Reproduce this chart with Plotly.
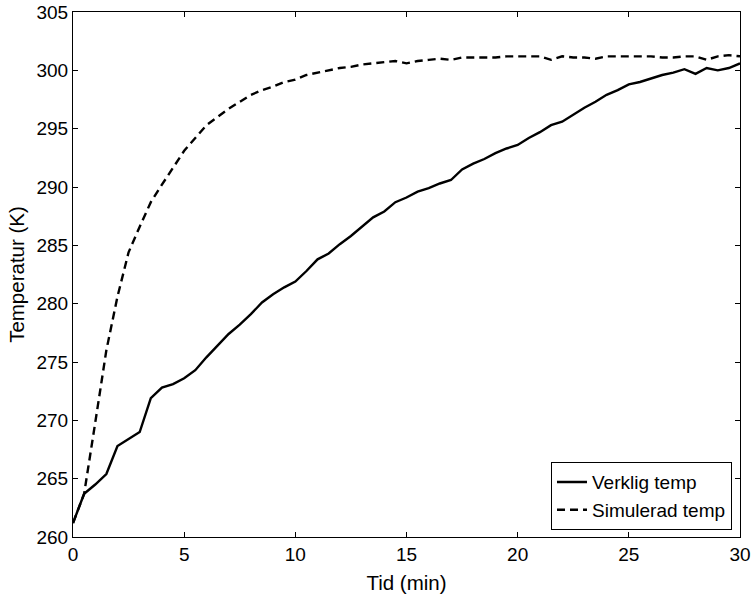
import plotly.graph_objects as go

time_min = [i * 0.5 for i in range(61)]

verklig_temp = [
    261.2, 263.7, 264.5, 265.4, 267.8, 268.4, 269.0, 271.9, 272.8, 273.1,
    273.6, 274.3, 275.4, 276.4, 277.4, 278.2, 279.1, 280.1, 280.8, 281.4,
    281.9, 282.8, 283.8, 284.3, 285.1, 285.8, 286.6, 287.4, 287.9, 288.7,
    289.1, 289.6, 289.9, 290.3, 290.6, 291.5, 292.0, 292.4, 292.9, 293.3,
    293.6, 294.2, 294.7, 295.3, 295.6, 296.2, 296.8, 297.3, 297.9, 298.3,
    298.8, 299.0, 299.3, 299.6, 299.8, 300.1, 299.7, 300.2, 300.0, 300.2,
    300.6,
]

simulerad_temp = [
    261.2, 263.7, 269.8, 276.0, 280.6, 284.4, 286.6, 288.7, 290.2, 291.6,
    293.1, 294.2, 295.3, 296.0, 296.7, 297.3, 297.9, 298.3, 298.6, 299.0,
    299.2, 299.6, 299.8, 300.0, 300.2, 300.3, 300.5, 300.6, 300.7, 300.8,
    300.6, 300.8, 300.9, 301.0, 300.9, 301.1, 301.1, 301.1, 301.1, 301.2,
    301.2, 301.2, 301.2, 300.9, 301.2, 301.1, 301.1, 301.0, 301.2, 301.2,
    301.2, 301.2, 301.2, 301.1, 301.1, 301.2, 301.2, 300.9, 301.2, 301.3,
    301.2,
]

series_names = ["Verklig temp", "Simulerad temp"]
x_ticks = [0, 5, 10, 15, 20, 25, 30]
y_ticks = [260, 265, 270, 275, 280, 285, 290, 295, 300, 305]

font_family = "Liberation Sans, Arial, Helvetica, sans-serif"

fig = go.Figure()
fig.add_trace(go.Scatter(
    x=time_min, y=verklig_temp, mode="lines", name=series_names[0],
    line=dict(color="black", width=2.4, dash="solid"),
))
fig.add_trace(go.Scatter(
    x=time_min, y=simulerad_temp, mode="lines", name=series_names[1],
    line=dict(color="black", width=2.4, dash="8px,5px"),
))

axis_common = dict(
    showgrid=False, zeroline=False, showline=True, linecolor="black", linewidth=1,
    ticks="inside", ticklen=5, tickcolor="black", mirror="ticks",
    tickfont=dict(family=font_family, size=19, color="black"),
    automargin=False,
)

fig.update_layout(
    width=754, height=602,
    paper_bgcolor="white", plot_bgcolor="white",
    margin=dict(l=73, r=14, t=12, b=65),
    font=dict(family=font_family, size=19, color="black"),
    xaxis=dict(range=[0, 30], tickvals=x_ticks,
               title=dict(text="Tid (min)", font=dict(size=20.5), standoff=11),
               **axis_common),
    yaxis=dict(range=[260, 305], tickvals=y_ticks,
               title=dict(text="Temperatur (K)", font=dict(size=20.5), standoff=6),
               **axis_common),
    legend=dict(
        x=0.988, y=0.013, xanchor="right", yanchor="bottom",
        bgcolor="white", bordercolor="black", borderwidth=1,
        font=dict(family=font_family, size=19, color="black"),
        tracegroupgap=0, itemwidth=30,
    ),
    showlegend=True,
)

fig.write_html(
    "out.html",
    config={"displayModeBar": False},
    post_script="document.body.style.margin='0';document.body.style.padding='0';",
)
